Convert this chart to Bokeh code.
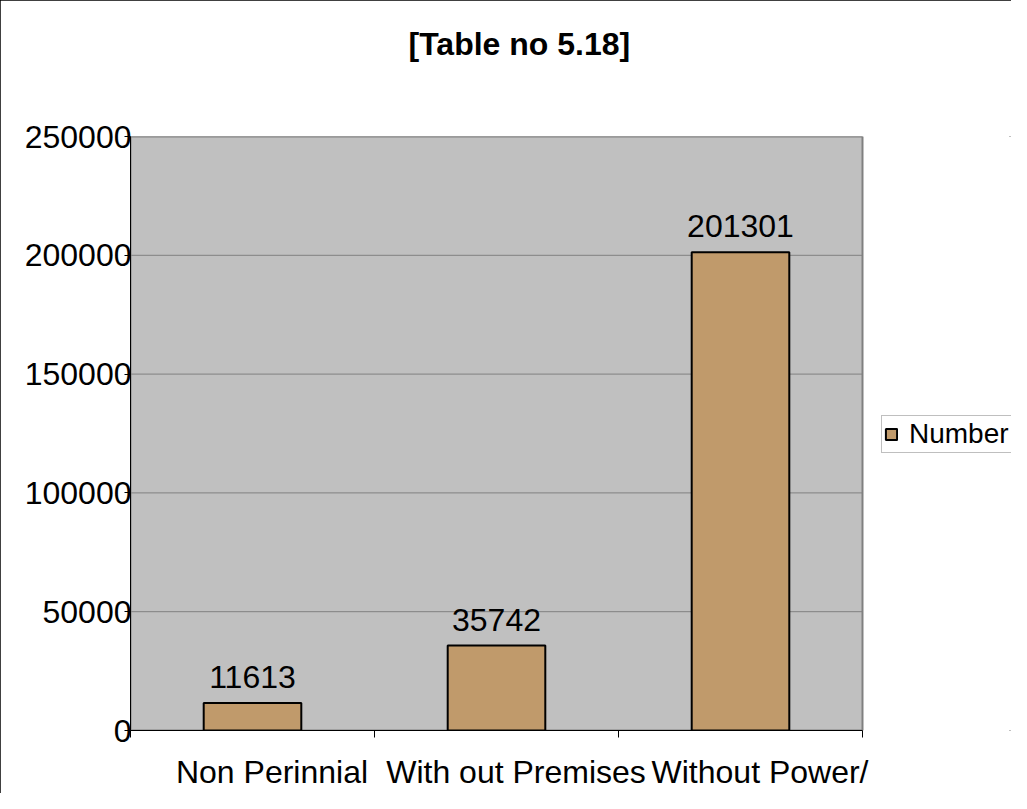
from bokeh.plotting import figure
from bokeh.models import (ColumnDataSource, Range1d, FixedTicker, Legend, LegendItem, BoxAnnotation, Title)
from bokeh.core.properties import value
from bokeh.embed import file_html
from bokeh.resources import INLINE

# ---- data ----
categories = ["Non Perinnial", "With out Premises", "Without Power/"]
values = [11613, 35742, 201301]
series_name = "Number"
title_text = "[Table no 5.18]"
y_ticks = [0, 50000, 100000, 150000, 200000, 250000]

FONT = "Liberation Sans"

# layout (pixels)
FIG_W, FIG_H = 1011, 793
LEFT, TOP, BOTTOM = 130, 136, 63
PLOT_W = 732          # width of the grey plot area
LABEL_SHIFT = 0.08    # category labels sit slightly right of the category centre

n = len(categories)
xs = [i + 0.5 for i in range(n)]
x_end = n * (FIG_W - LEFT) / PLOT_W  # frame extends right so the legend is not clipped

src = ColumnDataSource(dict(x=xs, top=values, label=[str(v) for v in values], cat=categories))

p = figure(width=FIG_W, height=FIG_H, output_backend="svg", toolbar_location=None,
           x_range=Range1d(0, x_end), y_range=Range1d(0, y_ticks[-1]),
           min_border_left=LEFT, min_border_right=0, min_border_top=TOP, min_border_bottom=BOTTOM)

p.background_fill_color = "white"
p.border_fill_color = "white"
p.outline_line_color = None
p.styles = {"outline": "2px solid black", "outline-offset": "-2px"}

# grey plot area
area = BoxAnnotation(left=0, right=n, bottom=0, top=y_ticks[-1], level="image",
                     fill_color="#C0C0C0", fill_alpha=1,
                     line_color="#808080", line_width=2, line_alpha=1)
p.add_layout(area)

# horizontal gridlines limited to the plot area
p.segment(x0=[0] * len(y_ticks), x1=[n] * len(y_ticks), y0=y_ticks, y1=y_ticks,
          line_color="#808080", line_width=1, level="underlay")

# title (outermost) with a blank spacer title between it and the plot
p.title.text = title_text
p.title.text_font = FONT
p.title.text_font_size = "32px"
p.title.text_font_style = "bold"
p.title.text_color = "black"
p.title.align = "left"
p.title.offset = 278
p.title.standoff = 0

spacer = Title(text=" ", text_font=FONT, text_font_size="32px", text_font_style="bold",
               text_color="white", standoff=37)
p.add_layout(spacer, "above")

# bars
r = p.vbar(x="x", top="top", width=0.4, bottom=0, source=src,
           fill_color="#C09A6B", line_color="black", line_width=2)

# value labels
p.text(x="x", y="top", text="label", source=src, text_align="center", text_baseline="bottom",
       y_offset=-15, text_font=value(FONT), text_font_size="32px", text_color="black")

# y axis
p.yaxis.ticker = FixedTicker(ticks=y_ticks)
p.yaxis.axis_line_color = "black"
p.yaxis.major_tick_line_color = "black"
p.yaxis.major_tick_out = 6
p.yaxis.major_tick_in = 0
p.yaxis.minor_tick_line_color = None
p.yaxis.major_label_text_font = FONT
p.yaxis.major_label_text_font_size = "32px"
p.yaxis.major_label_text_color = "black"
p.yaxis.major_label_standoff = -7
p.yaxis.formatter.use_scientific = False

# x axis
label_pos = [x + LABEL_SHIFT for x in xs]
p.xaxis.ticker = FixedTicker(ticks=label_pos, minor_ticks=list(range(n + 1)))
p.xaxis.bounds = (0, n)
p.xaxis.major_label_overrides = {x: c for x, c in zip(label_pos, categories)}
p.xaxis.axis_line_color = "black"
p.xaxis.major_tick_line_color = None
p.xaxis.major_tick_out = 0
p.xaxis.minor_tick_line_color = "black"
p.xaxis.minor_tick_out = 7
p.xaxis.minor_tick_in = 0
p.xaxis.major_label_text_font = FONT
p.xaxis.major_label_text_font_size = "32px"
p.xaxis.major_label_text_color = "black"
p.xaxis.major_label_standoff = 16

# no built-in grid
p.xgrid.grid_line_color = None
p.ygrid.grid_line_color = None

# legend
legend = Legend(items=[LegendItem(label=series_name, renderers=[r])],
                location=(751, 277), orientation="vertical",
                padding=2, margin=0, spacing=0,
                glyph_width=14, glyph_height=14, label_standoff=11,
                label_text_font=FONT, label_text_font_size="28px", label_text_color="black",
                border_line_color="#808080", border_line_width=1.5,
                background_fill_color="white", background_fill_alpha=1)
p.add_layout(legend)

open("out.html", "w").write(file_html(p, INLINE))
